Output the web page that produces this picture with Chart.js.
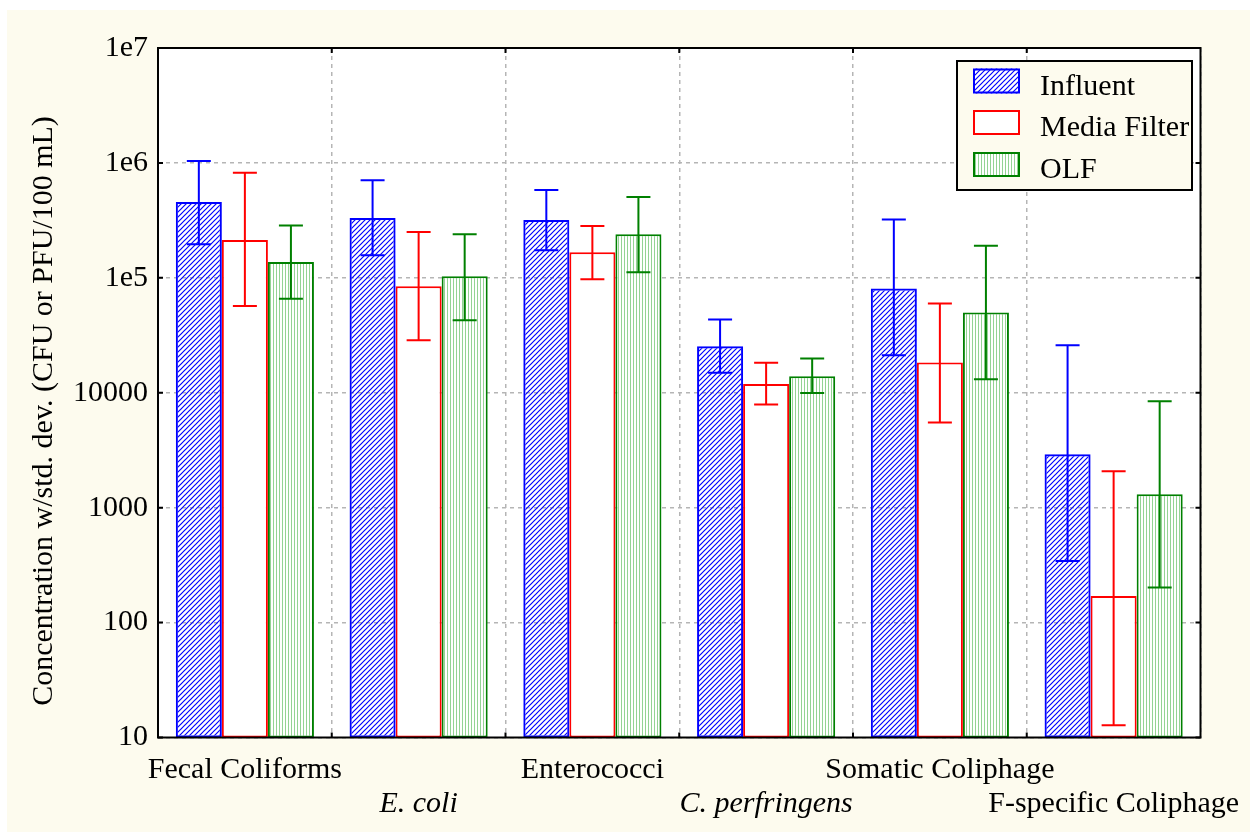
<!DOCTYPE html>
<html>
<head>
<meta charset="utf-8">
<script src="https://cdn.jsdelivr.net/npm/chart.js@4.4.1/dist/chart.umd.min.js"></script>
<style>
  html, body { margin: 0; padding: 0; background: #fff; }
  #wrap { width: 1250px; height: 834px; position: relative; }
</style>
</head>
<body>
<div id="wrap"><canvas id="c" width="1250" height="834"></canvas></div>
<script>
// Indicator organisms and treatment stages
const categories = ['Fecal Coliforms', 'E. coli', 'Enterococci', 'C. perfringens', 'Somatic Coliphage', 'F-specific Coliphage'];
const italicNames = ['E. coli', 'C. perfringens'];
const seriesNames = ['Influent', 'Media Filter', 'OLF'];

// Mean concentrations (CFU or PFU / 100 mL) with std. dev. range
const influent      = [456000, 331000, 318000, 25400, 80700, 2910];
const influentLow   = [196000, 157000, 174000, 14900, 21200, 343];
const influentHigh  = [1040000, 708000, 580000, 43400, 322000, 25900];

const mediaFilter     = [213000, 84600, 167000, 11900, 18300, 170];
const mediaFilterLow  = [57000, 28600, 97000, 7900, 5500, 12.8];
const mediaFilterHigh = [820000, 250000, 282000, 18200, 59700, 2070];

const olf     = [137000, 103000, 240000, 13900, 49900, 1310];
const olfLow  = [65600, 42800, 112000, 9970, 13100, 202];
const olfHigh = [286000, 240000, 504000, 19900, 190000, 8430];

const yTickValues = [10, 100, 1000, 10000, 100000, 1000000, 10000000];
const yTickLabels = ['10', '100', '1000', '10000', '1e5', '1e6', '1e7'];

const yTitle = 'Concentration w/std. dev. (CFU or PFU/100 mL)';

const FONT = "'Liberation Serif', 'Times New Roman', Times, serif";
const FONT_SIZE = 30;
const PAGE_BG = '#fdfbee';

// Fill patterns for the bars: thin diagonal lines on a clear background,
// and pale vertical lines on white
function diagonalHatch(color, step, width) {
  const c = document.createElement('canvas');
  c.width = step; c.height = step;
  const g = c.getContext('2d');
  g.strokeStyle = color;
  g.lineWidth = width;
  g.beginPath();
  g.moveTo(-1, step + 1); g.lineTo(step + 1, -1);
  g.moveTo(-1, 1); g.lineTo(1, -1);
  g.moveTo(step - 1, step + 1); g.lineTo(step + 1, step - 1);
  g.stroke();
  return g.createPattern(c, 'repeat');
}
function verticalHatch(color, step) {
  const c = document.createElement('canvas');
  c.width = step; c.height = 4;
  const g = c.getContext('2d');
  g.fillStyle = '#fff';
  g.fillRect(0, 0, step, 4);
  g.fillStyle = color;
  g.fillRect(0, 0, 1, 4);
  return g.createPattern(c, 'repeat');
}

const blueFill = diagonalHatch('#0000ff', 5, 1.2);
const greenFill = verticalHatch('rgba(0,150,0,0.42)', 3);

const seriesStyles = [
  { border: '#0000ff', fill: blueFill },
  { border: '#ff0000', fill: '#ffffff' },
  { border: '#008000', fill: greenFill }
];

const seriesValues = [influent, mediaFilter, olf];
const seriesLow = [influentLow, mediaFilterLow, olfLow];
const seriesHigh = [influentHigh, mediaFilterHigh, olfHigh];

const datasets = seriesNames.map((name, i) => ({
  label: name,
  data: seriesValues[i],
  errLow: seriesLow[i],
  errHigh: seriesHigh[i],
  backgroundColor: seriesStyles[i].fill,
  borderColor: seriesStyles[i].border,
  borderWidth: 2,
  borderSkipped: false,
  barPercentage: 1.0,
  categoryPercentage: 0.795
}));

// Page background and white plotting area
const backdrop = {
  id: 'backdrop',
  beforeDraw(chart) {
    const { ctx, chartArea: a } = chart;
    ctx.save();
    ctx.fillStyle = '#fff';
    ctx.fillRect(0, 0, chart.width, chart.height);
    ctx.fillStyle = PAGE_BG;
    ctx.fillRect(7, 10, chart.width - 7, chart.height - 12);
    ctx.fillStyle = '#fff';
    ctx.fillRect(a.left, a.top, a.right - a.left, a.bottom - a.top);
    ctx.restore();
  }
};

// Std. dev. whiskers
const errorBars = {
  id: 'errorBars',
  afterDatasetsDraw(chart) {
    const { ctx } = chart;
    const y = chart.scales.y;
    chart.data.datasets.forEach((ds, i) => {
      const meta = chart.getDatasetMeta(i);
      ctx.save();
      ctx.strokeStyle = ds.borderColor;
      ctx.lineWidth = 2;
      meta.data.forEach((bar, j) => {
        const yl = y.getPixelForValue(ds.errLow[j]);
        const yh = y.getPixelForValue(ds.errHigh[j]);
        const x = bar.x;
        const cap = 12;
        ctx.beginPath();
        ctx.moveTo(x, yl); ctx.lineTo(x, yh);
        ctx.moveTo(x - cap, yl); ctx.lineTo(x + cap, yl);
        ctx.moveTo(x - cap, yh); ctx.lineTo(x + cap, yh);
        ctx.stroke();
      });
      ctx.restore();
    });
  }
};

// Plot frame with inward tick marks on all four sides
const frame = {
  id: 'frame',
  afterDatasetsDraw(chart) {
    const { ctx, chartArea: a } = chart;
    const x = chart.scales.x, y = chart.scales.y;
    ctx.save();
    ctx.setLineDash([]);
    ctx.strokeStyle = '#000';
    ctx.lineWidth = 2;
    ctx.strokeRect(a.left, a.top, a.right - a.left, a.bottom - a.top);
    ctx.beginPath();
    const t = 5;
    y.ticks.forEach(tk => {
      const py = y.getPixelForValue(tk.value);
      ctx.moveTo(a.left, py); ctx.lineTo(a.left + t, py);
      ctx.moveTo(a.right, py); ctx.lineTo(a.right - t, py);
    });
    const n = x.ticks.length;
    const step = (a.right - a.left) / n;
    for (let k = 1; k < n; k++) {
      const px = a.left + k * step;
      ctx.moveTo(px, a.top); ctx.lineTo(px, a.top + t);
      ctx.moveTo(px, a.bottom); ctx.lineTo(px, a.bottom - t);
    }
    ctx.stroke();
    ctx.restore();
  }
};

// Rotated y-axis title and the boxed legend
const annotations = {
  id: 'annotations',
  afterDraw(chart) {
    const { ctx } = chart;
    ctx.save();
    ctx.fillStyle = '#000';
    ctx.font = `${FONT_SIZE}px ${FONT}`;
    ctx.translate(52, 411);
    ctx.rotate(-Math.PI / 2);
    ctx.textAlign = 'center';
    ctx.textBaseline = 'alphabetic';
    ctx.fillText(yTitle, 0, 0);
    ctx.restore();

    const box = { x: 957, y: 61, w: 235, h: 129 };
    ctx.save();
    ctx.fillStyle = PAGE_BG;
    ctx.fillRect(box.x, box.y, box.w, box.h);
    ctx.strokeStyle = '#000';
    ctx.lineWidth = 2;
    ctx.strokeRect(box.x, box.y, box.w, box.h);
    const rows = [81, 122.5, 164.5];
    chart.data.datasets.forEach((ds, i) => {
      const cy = rows[i];
      ctx.fillStyle = '#fff';
      ctx.fillRect(973, cy - 12.5, 47, 25);
      ctx.fillStyle = ds.backgroundColor;
      ctx.fillRect(973, cy - 12.5, 47, 25);
      ctx.strokeStyle = ds.borderColor;
      ctx.lineWidth = 2;
      ctx.strokeRect(974, cy - 11.5, 45, 23);
      ctx.fillStyle = '#000';
      ctx.font = `${FONT_SIZE}px ${FONT}`;
      ctx.textAlign = 'left';
      ctx.textBaseline = 'alphabetic';
      ctx.fillText(ds.label, 1040, cy + 13.5);
    });
    ctx.restore();
  }
};

Chart.defaults.color = '#000';

new Chart(document.getElementById('c'), {
  type: 'bar',
  data: { labels: categories, datasets },
  options: {
    responsive: false,
    animation: false,
    devicePixelRatio: 1,
    events: [],
    layout: { padding: { top: 48, right: 49.5, left: 0, bottom: 0 } },
    plugins: { legend: { display: false }, tooltip: { enabled: false } },
    scales: {
      x: {
        offset: true,
        grid: { display: true, offset: true, drawTicks: false, color: '#b5b5b5', lineWidth: 1.5 },
        border: { display: false, dash: [4, 4] },
        ticks: {
          autoSkip: false,
          maxRotation: 0,
          minRotation: 0,
          padding: 16,
          color: '#000',
          font: (c) => ({
            family: FONT,
            size: FONT_SIZE,
            lineHeight: 1.12,
            style: italicNames.includes(categories[c.index]) ? 'italic' : 'normal'
          }),
          callback: (v, i) => (i % 2 === 0 ? [categories[i], ''] : ['', categories[i]])
        },
        afterFit: (s) => {
          s.height = 96.5;
          s.paddingLeft = 0;
          s.paddingRight = 0;
        }
      },
      y: {
        type: 'logarithmic',
        min: 10,
        max: 10000000,
        grid: { drawTicks: false, color: '#b5b5b5', lineWidth: 1.5 },
        border: { display: false, dash: [4, 4] },
        ticks: {
          padding: 10,
          color: '#000',
          font: { family: FONT, size: FONT_SIZE },
          callback: (v) => {
            const k = yTickValues.indexOf(v);
            return k >= 0 ? yTickLabels[k] : '';
          }
        },
        afterBuildTicks: (s) => { s.ticks = yTickValues.map(v => ({ value: v })); },
        afterFit: (s) => {
          s.width = 158;
          s.paddingTop = 0;
          s.paddingBottom = 0;
        }
      }
    }
  },
  plugins: [backdrop, errorBars, frame, annotations]
});
</script>
</body>
</html>
